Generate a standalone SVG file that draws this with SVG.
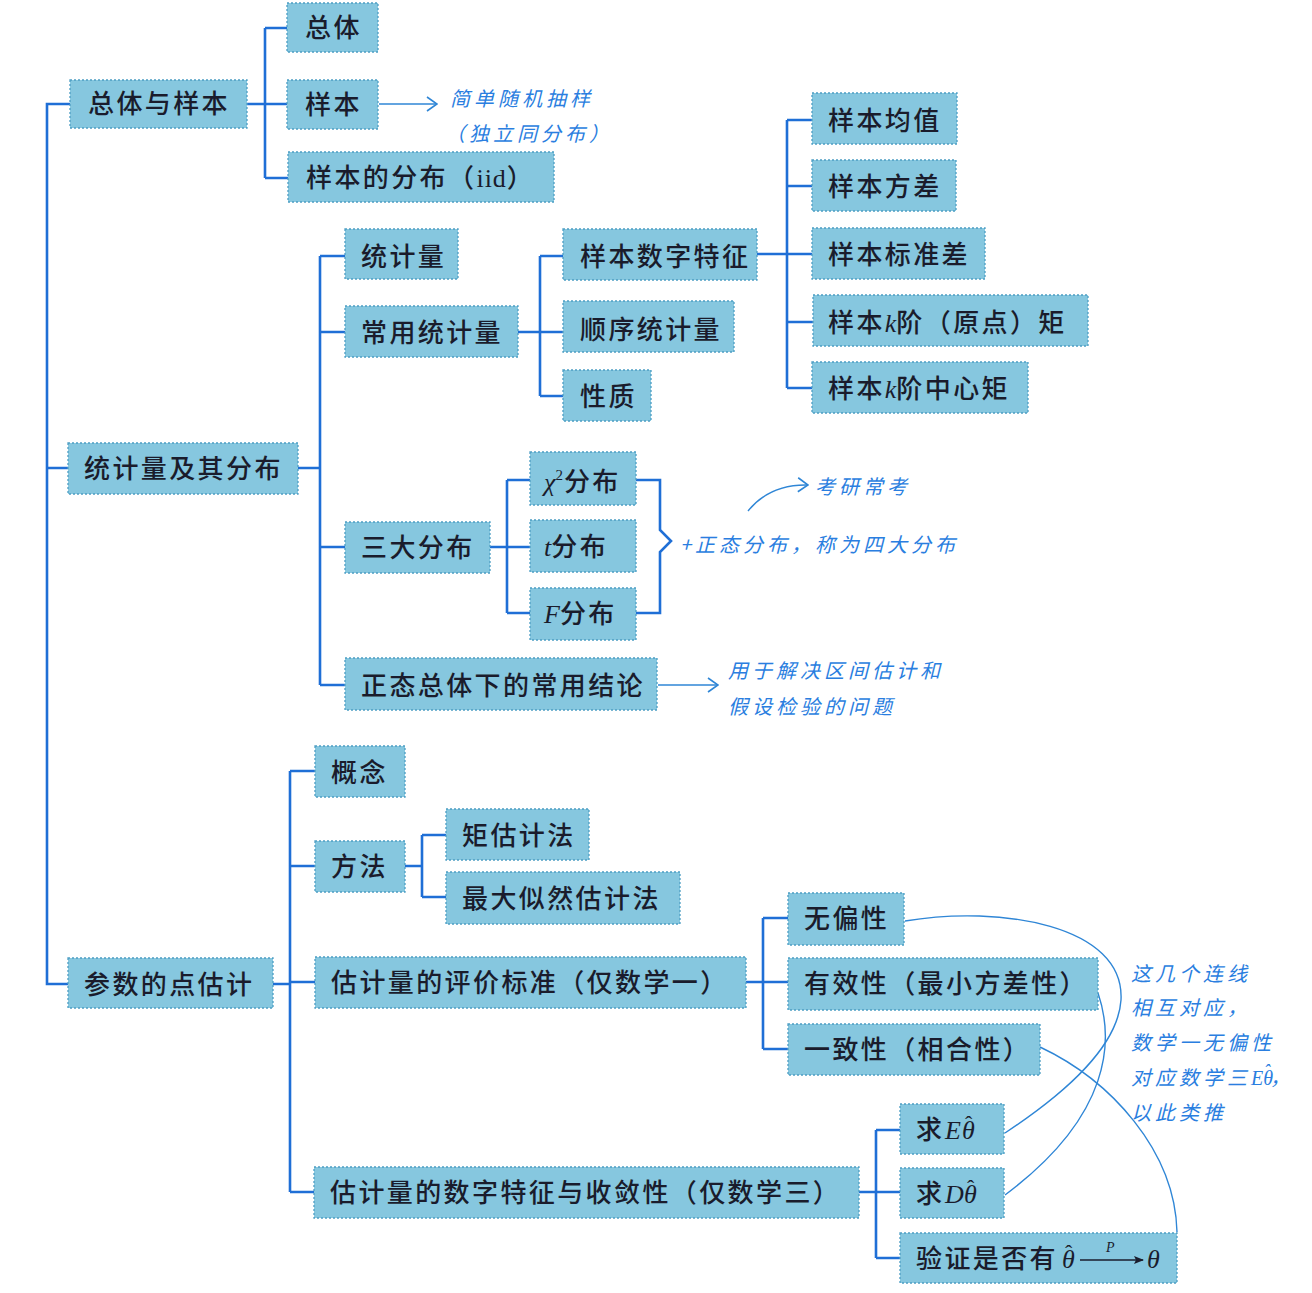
<svg xmlns="http://www.w3.org/2000/svg" width="1312" height="1293" viewBox="0 0 1312 1293">
<defs>
<style>
.box{fill:#86c7df;stroke:#4d9ec4;stroke-width:1.3;stroke-dasharray:2 2}
.lbl{font-family:"Noto Sans CJK SC","Noto Sans",sans-serif;font-size:26px;font-weight:500;fill:#1a1c2c;letter-spacing:2.4px}
.m{font-family:"Liberation Serif",serif;font-style:italic;letter-spacing:0}
.r{font-family:"Liberation Serif",serif;letter-spacing:1px}
.h{font-family:"Liberation Serif",serif;font-size:22px;letter-spacing:0}
.con{fill:none;stroke:#1f6fd6;stroke-width:2.6}
.ann{font-family:"Noto Sans CJK SC",sans-serif;font-size:20px;fill:#2a7ee0;font-style:italic;letter-spacing:4px}
.thin{fill:none;stroke:#2f86d6;stroke-width:1.4}
</style>
<marker id="chev" viewBox="0 0 12 16" refX="11" refY="8" markerWidth="12" markerHeight="16" markerUnits="userSpaceOnUse" orient="auto">
<path d="M1,1 L11,8 L1,15" fill="none" stroke="#2f86d6" stroke-width="1.6"/>
</marker>
<marker id="tip" viewBox="0 0 10 8" refX="9" refY="4" markerWidth="10" markerHeight="8" markerUnits="userSpaceOnUse" orient="auto">
<path d="M0,0 L10,4 L0,8 L2,4 Z" fill="#1a1c2c"/>
</marker>
</defs>
<rect width="1312" height="1293" fill="#ffffff"/>

<g id="connectors">
<path class="con" d="M70,104 H47 V984 H68 M47,468 H68"/>
<path class="con" d="M247,104 H287 M265,28 V178 M265,28 H287 M265,178 H288"/>
<path class="con" d="M298,468 H320 M320,256 V685 M320,256 H345 M320,332 H345 M320,547 H345 M320,685 H345"/>
<path class="con" d="M518,332 H563 M540,256 V396 M540,256 H563 M540,396 H563"/>
<path class="con" d="M757,254 H812 M787,120 V388 M787,120 H812 M787,186 H812 M787,322 H813 M787,388 H812"/>
<path class="con" d="M490,547 H530 M507,480 V613 M507,480 H530 M507,613 H530"/>
<path class="con" d="M636,480 H660 V530 L671,541 L660,552 V613 H636"/>
<path class="con" d="M273,984 H290 M290,771 V1192 M290,771 H315 M290,866 H315 M290,982 H315 M290,1192 H314"/>
<path class="con" d="M405,866 H422 M422,835 V897 M422,835 H446 M422,897 H446"/>
<path class="con" d="M746,982 H788 M763,918 V1049 M763,918 H788 M763,1049 H788"/>
<path class="con" d="M859,1192 H900 M876,1130 V1258 M876,1130 H900 M876,1258 H900"/>
<path class="thin" d="M379,104 H437" marker-end="url(#chev)"/>
<path class="thin" d="M658,685 H718" marker-end="url(#chev)"/>
<path class="thin" d="M748,511 Q770,484 808,485" marker-end="url(#chev)"/>
<path class="thin" d="M905,921 C1000,905 1125,925 1121,1000 C1118,1045 1070,1090 1005,1133"/>
<path class="thin" d="M1098,993 C1114,1040 1112,1115 1005,1195"/>
<path class="thin" d="M1040,1047 C1110,1080 1175,1150 1177,1232"/>
</g>

<g id="n-zongtiyuyangben"><rect class="box" x="70" y="80" width="177" height="48"/><text class="lbl" x="88" y="113">总体与样本</text></g>
<g id="n-zongti"><rect class="box" x="287" y="3" width="91" height="49"/><text class="lbl" x="305" y="37">总体</text></g>
<g id="n-yangben"><rect class="box" x="287" y="80" width="91" height="49"/><text class="lbl" x="305" y="114">样本</text></g>
<g id="n-yangbenfenbu"><rect class="box" x="288" y="152" width="266" height="50"/><text class="lbl" x="306" y="187">样本的分布（<tspan class="r">iid</tspan>）</text></g>
<g id="a-yangben"><text class="ann" x="450" y="106">简单随机抽样</text><text class="ann" x="445" y="141">（独立同分布）</text></g>

<g id="n-tongjiliangjiqifenbu"><rect class="box" x="68" y="443" width="230" height="51"/><text class="lbl" x="84" y="478">统计量及其分布</text></g>
<g id="n-tongjiliang"><rect class="box" x="345" y="229" width="113" height="50"/><text class="lbl" x="361" y="266">统计量</text></g>
<g id="n-changyong"><rect class="box" x="345" y="306" width="173" height="51"/><text class="lbl" x="361" y="342">常用统计量</text></g>
<g id="n-sandafenbu"><rect class="box" x="345" y="522" width="145" height="51"/><text class="lbl" x="361" y="557">三大分布</text></g>
<g id="n-zhengtai"><rect class="box" x="345" y="658" width="312" height="52"/><text class="lbl" x="361" y="695">正态总体下的常用结论</text></g>
<g id="n-shuzitezheng"><rect class="box" x="563" y="229" width="194" height="51"/><text class="lbl" x="580" y="266">样本数字特征</text></g>
<g id="n-shunxu"><rect class="box" x="563" y="301" width="171" height="51"/><text class="lbl" x="580" y="339">顺序统计量</text></g>
<g id="n-xingzhi"><rect class="box" x="563" y="370" width="88" height="51"/><text class="lbl" x="580" y="406">性质</text></g>
<g id="n-junzhi"><rect class="box" x="812" y="93" width="145" height="51"/><text class="lbl" x="828" y="130">样本均值</text></g>
<g id="n-fangcha"><rect class="box" x="812" y="160" width="144" height="51"/><text class="lbl" x="828" y="196">样本方差</text></g>
<g id="n-biaozhuncha"><rect class="box" x="812" y="228" width="173" height="51"/><text class="lbl" x="828" y="264">样本标准差</text></g>
<g id="n-yuandianju"><rect class="box" x="813" y="295" width="275" height="51"/><text class="lbl" x="828" y="332">样本<tspan class="m">k</tspan>阶（原点）矩</text></g>
<g id="n-zhongxinju"><rect class="box" x="812" y="362" width="216" height="51"/><text class="lbl" x="828" y="398">样本<tspan class="m">k</tspan>阶中心矩</text></g>
<g id="n-chi2"><rect class="box" x="530" y="452" width="106" height="53"/><text class="lbl" x="544" y="491"><tspan class="m">χ</tspan><tspan class="r" font-size="15" dy="-11">2</tspan><tspan dy="11">分布</tspan></text></g>
<g id="n-t"><rect class="box" x="530" y="520" width="106" height="52"/><text class="lbl" x="544" y="556"><tspan class="m">t</tspan>分布</text></g>
<g id="n-f"><rect class="box" x="530" y="588" width="106" height="52"/><text class="lbl" x="544" y="623"><tspan class="m">F</tspan>分布</text></g>
<g id="a-sida"><text class="ann" x="680" y="552">+正态分布，称为四大分布</text><text class="ann" x="815" y="494">考研常考</text></g>
<g id="a-zhengtai"><text class="ann" x="728" y="678">用于解决区间估计和</text><text class="ann" x="728" y="714">假设检验的问题</text></g>

<g id="n-canshu"><rect class="box" x="68" y="958" width="205" height="50"/><text class="lbl" x="84" y="994">参数的点估计</text></g>
<g id="n-gainian"><rect class="box" x="315" y="746" width="90" height="51"/><text class="lbl" x="331" y="782">概念</text></g>
<g id="n-fangfa"><rect class="box" x="315" y="841" width="90" height="51"/><text class="lbl" x="331" y="876">方法</text></g>
<g id="n-ju"><rect class="box" x="446" y="809" width="143" height="51"/><text class="lbl" x="462" y="845">矩估计法</text></g>
<g id="n-sikeran"><rect class="box" x="446" y="872" width="234" height="52"/><text class="lbl" x="462" y="908">最大似然估计法</text></g>
<g id="n-pingjia"><rect class="box" x="315" y="957" width="431" height="51"/><text class="lbl" x="331" y="992">估计量的评价标准（仅数学一）</text></g>
<g id="n-wupian"><rect class="box" x="788" y="893" width="116" height="52"/><text class="lbl" x="804" y="928">无偏性</text></g>
<g id="n-youxiao"><rect class="box" x="788" y="958" width="310" height="52"/><text class="lbl" x="804" y="993">有效性（最小方差性）</text></g>
<g id="n-yizhi"><rect class="box" x="788" y="1024" width="252" height="51"/><text class="lbl" x="804" y="1059">一致性（相合性）</text></g>
<g id="n-shuzi3"><rect class="box" x="314" y="1167" width="545" height="51"/><text class="lbl" x="330" y="1202">估计量的数字特征与收敛性（仅数学三）</text></g>
<g id="n-qiuE"><rect class="box" x="900" y="1104" width="104" height="50"/><text class="lbl" x="916" y="1139">求<tspan class="m" x="945">E</tspan><tspan class="m" x="962">θ</tspan><tspan class="h" x="965" y="1131">ˆ</tspan></text></g>
<g id="n-qiuD"><rect class="box" x="900" y="1168" width="104" height="50"/><text class="lbl" x="916" y="1203">求<tspan class="m" x="945">D</tspan><tspan class="m" x="964">θ</tspan><tspan class="h" x="967" y="1195">ˆ</tspan></text></g>
<g id="n-yanzheng"><rect class="box" x="900" y="1233" width="277" height="50"/><text class="lbl" x="916" y="1268">验证是否有<tspan class="m" x="1062">θ</tspan><tspan class="h" x="1065" y="1260">ˆ</tspan><tspan class="m" x="1147" y="1268">θ</tspan></text><line x1="1080" y1="1260" x2="1143" y2="1260" stroke="#1a1c2c" stroke-width="1.5" marker-end="url(#tip)"/><text class="m" x="1106" y="1252" font-size="14" fill="#1a1c2c">P</text></g>

<g id="a-lianxian"><text class="ann" x="1131" y="981">这几个连线</text><text class="ann" x="1131" y="1015">相互对应，</text><text class="ann" x="1131" y="1050">数学一无偏性</text><text class="ann" x="1131" y="1085">对应数学三<tspan font-family="Liberation Serif" letter-spacing="0">E</tspan><tspan font-family="Liberation Serif" letter-spacing="0">θ</tspan><tspan font-family="Liberation Serif" letter-spacing="0" font-size="18" x="1264" y="1077">ˆ</tspan><tspan y="1085">，</tspan></text><text class="ann" x="1131" y="1120">以此类推</text></g>
</svg>
